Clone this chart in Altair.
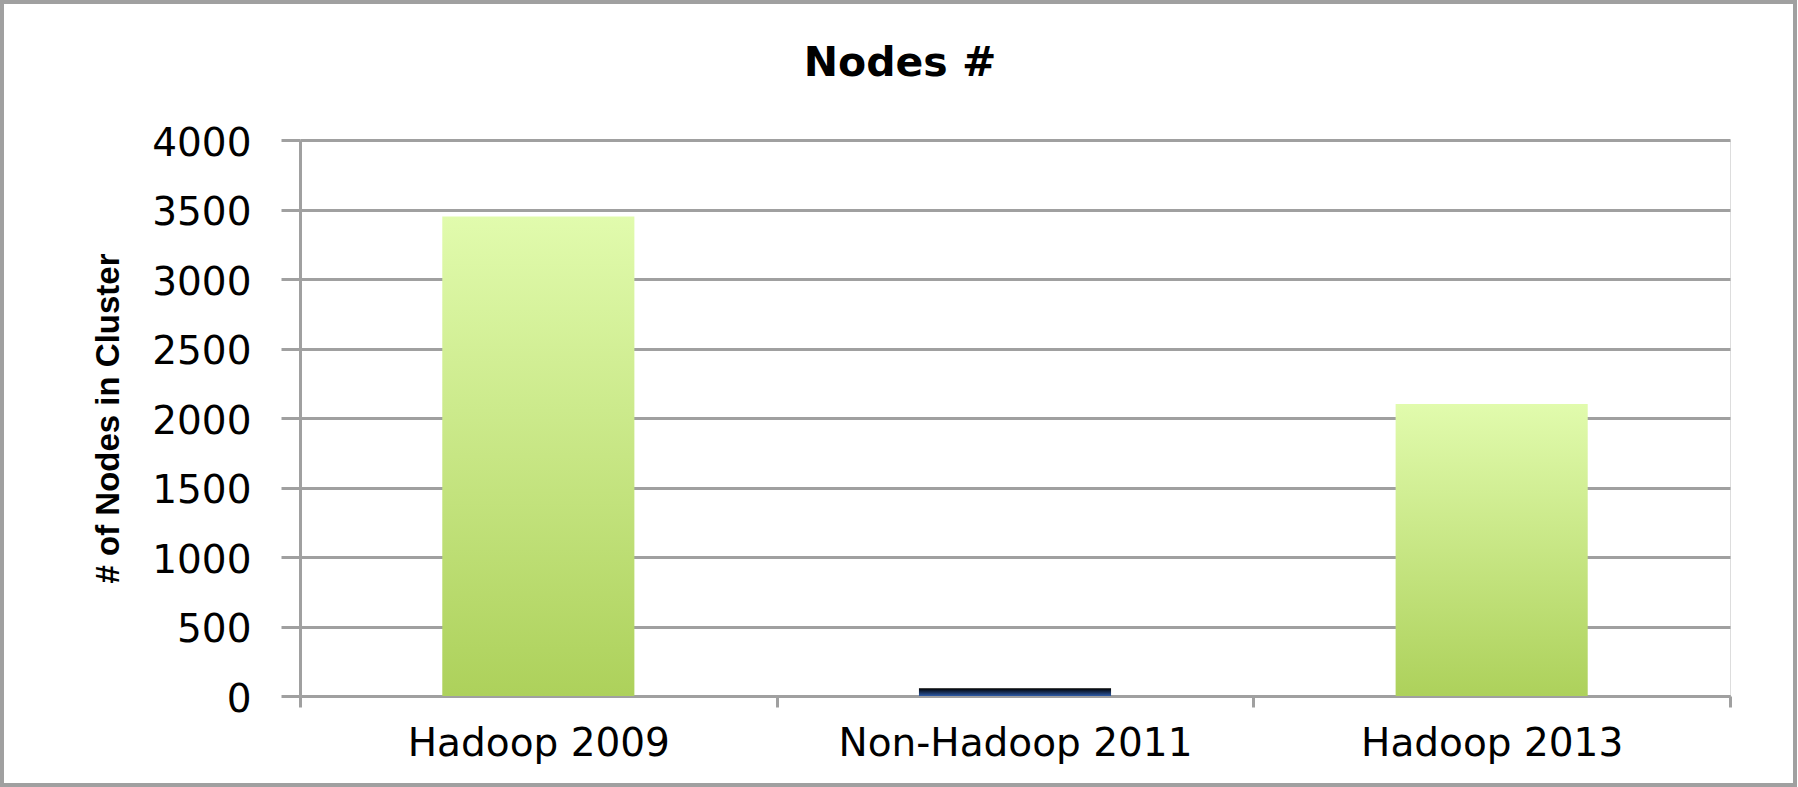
import altair as alt
import pandas as pd

categories = ["Hadoop 2009", "Non-Hadoop 2011", "Hadoop 2013"]
nodes = [3450, 55, 2100]
y_ticks = [0, 500, 1000, 1500, 2000, 2500, 3000, 3500, 4000]
green_cats = ["Hadoop 2009", "Hadoop 2013"]
blue_cats = ["Non-Hadoop 2011"]

df = pd.DataFrame({"cluster": categories, "nodes": nodes})

GRAY = "#a0a0a0"
LABEL_FONT = "DejaVu Sans"

green = alt.Gradient(
    gradient="linear",
    stops=[alt.GradientStop(color="#e1fbad", offset=0),
           alt.GradientStop(color="#add15b", offset=1)],
    x1=0, x2=0, y1=0, y2=1,
)
blue = alt.Gradient(
    gradient="linear",
    stops=[alt.GradientStop(color="#000000", offset=0),
           alt.GradientStop(color="#2d5aa6", offset=1)],
    x1=0, x2=0, y1=0, y2=1,
)

x_enc = alt.X(
    "cluster:N",
    scale=alt.Scale(domain=categories, paddingInner=0, paddingOuter=0),
    axis=alt.Axis(
        title=None, labelAngle=0, tickBand="extent", grid=False,
        domainColor=GRAY, domainWidth=3, tickColor=GRAY, tickWidth=3, tickSize=11,
        labelFont=LABEL_FONT, labelFontSize=39, labelColor="black", labelLimit=0,
        labelBaseline="alphabetic", labelPadding=48,
    ),
)
y_enc = alt.Y(
    "nodes:Q",
    scale=alt.Scale(domain=[0, 4000], nice=False),
    axis=alt.Axis(
        values=y_ticks, format="d", title="# of Nodes in Cluster",
        grid=True, gridColor=GRAY, gridWidth=3,
        domainColor=GRAY, domainWidth=3, tickColor=GRAY, tickWidth=3, tickSize=19,
        labelFont=LABEL_FONT, labelFontSize=39, labelColor="black", labelPadding=30,
        labelOffset=3,
        titleFont="Liberation Sans Narrow, Liberation Sans, sans-serif",
        titleFontSize=33, titleFontWeight="bold", titleColor="black",
        titleAngle=270, titleX=-192, titleY=278, titleAlign="center", titleBaseline="middle",
    ),
)

base = alt.Chart(df)
bar_width = alt.RelativeBandSize(0.403)

green_bars = base.transform_filter(
    alt.FieldOneOfPredicate(field="cluster", oneOf=green_cats)
).mark_bar(fill=green, strokeWidth=0, width=bar_width).encode(x=x_enc, y=y_enc)

blue_bars = base.transform_filter(
    alt.FieldOneOfPredicate(field="cluster", oneOf=blue_cats)
).mark_bar(fill=blue, strokeWidth=0, width=bar_width).encode(x=x_enc, y=y_enc)

frame = alt.Chart(alt.Data(values=[{}])).mark_rect(
    fill="transparent", stroke=GRAY, strokeWidth=4
).encode(
    x=alt.value(-298), x2=alt.value(1495), y=alt.value(-138), y2=alt.value(645)
)

chart = alt.layer(frame, green_bars, blue_bars).properties(
    width=1430,
    height=556,
    title=alt.TitleParams(
        "Nodes #", font=LABEL_FONT, fontSize=41, fontWeight="bold", color="black",
        anchor="middle", dx=-115, baseline="alphabetic", offset=-117,
    ),
    autosize=alt.AutoSizeParams(type="none"),
    padding={"left": 300, "top": 140, "right": 68, "bottom": 91},
).configure_view(stroke=None).configure(background="white")

chart.save("out.html", embed_options={"renderer": "svg", "actions": False})
